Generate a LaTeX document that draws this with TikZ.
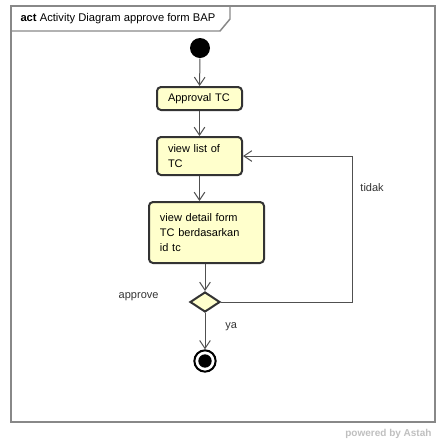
\documentclass[tikz,border=0pt]{standalone}
\usepackage{fontspec}
\setmainfont{Liberation Sans}
\usetikzlibrary{shapes.geometric,arrows.meta}

\definecolor{actfill}{RGB}{255,255,204}
\definecolor{actline}{RGB}{51,51,51}
\definecolor{flowline}{RGB}{80,80,80}
\definecolor{framegray}{RGB}{136,136,136}

\tikzset{every picture/.style={line width=0.75pt}}
\tikzset{
  action/.style={draw=actline, fill=actfill, line width=1.5pt, rounded corners=3pt,
    align=left, inner xsep=8.25pt, inner ysep=2pt, font=\fontsize{8.25}{11}\selectfont},
  decision/.style={diamond, draw=actline, fill=actfill, line width=1.5pt, inner sep=0pt,
    minimum width=22.5pt, minimum height=15pt},
  flow/.style={draw=flowline, line width=0.75pt, -{Straight Barb[length=6pt,width=8pt]}},
  lbl/.style={font=\fontsize{8.25}{10}\selectfont, text=black!80, inner sep=0pt}
}

\begin{document}
\begin{tikzpicture}[x=0.75pt,y=0.75pt,yscale=-1,xscale=1]
\useasboundingbox (0,0) rectangle (437,444);
%Frame
\draw [draw=framegray, line width=1.1pt] (11,6) rectangle (435,422) ;
%Title tab
\draw [draw=framegray, line width=1.1pt] (11,31) -- (220,31) -- (230,19) -- (230,6) ;
\node (title) [anchor=west, inner sep=0pt, font=\fontsize{8.4}{10}\selectfont] at (20,19) {\textbf{act} Activity Diagram approve form BAP};
% Initial node
\node (start) [circle, fill=black, inner sep=0pt, minimum size=15pt] at (200,48) {};
% Actions
\node (approval) [action, text width=47.25pt, minimum height=17.25pt] at (199.5,98.5) {Approval TC};
\node (viewlist) [action, text width=47.25pt, minimum height=28.5pt] at (199.5,156) {view list of\\TC};
\node (viewdetail) [action, text width=69.75pt, minimum height=45.75pt] at (206.5,232.5) {view detail form\\TC berdasarkan\\id tc};
% Decision and final node
\node (choice) [decision] at (205,302) {};
\node (finish) [circle, draw=black, line width=1.5pt, inner sep=0pt, minimum size=16pt,
  path picture={\fill[black] (path picture bounding box.center) circle (5pt);}] at (205,361) {};
\coordinate (back) at (352,156);
% Flows
\draw [flow] (start) -- (approval) ;
\draw [flow] (approval) -- (viewlist) ;
\draw [flow] (viewlist.south) -- (viewlist.south |- viewdetail.north) ;
\draw [flow] (choice |- viewdetail.south) -- (choice.north) ;
\draw [flow] (choice.east) -| (back) -- (viewlist.east) ;
\draw [flow] (choice.south) -- (finish.north) ;
% Text Node
\node (approve) [lbl, anchor=east] at (159,297) {approve};
\node (tidak) [lbl, anchor=west] at (360,188) {tidak};
\node (ya) [lbl, anchor=west] at (225,327) {ya};
\node (astah) [anchor=east, inner sep=0pt, text=black!25, font=\fontsize{7.5}{9}\selectfont\bfseries] at (432,434) {powered by Astah};
\end{tikzpicture}
\end{document}
